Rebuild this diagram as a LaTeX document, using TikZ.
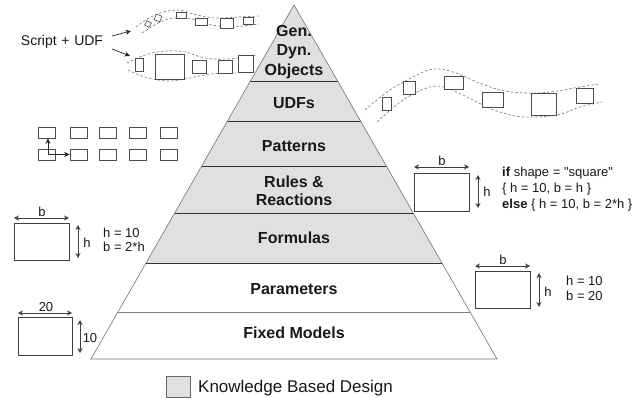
\documentclass[tikz,border=0pt]{standalone}
\usepackage{fontspec}
\setmainfont{Liberation Sans}
\newfontfamily\rawfont{Liberation Sans}
\usetikzlibrary{arrows.meta}
\begin{document}
\begin{tikzpicture}[x=1pt,y=-1pt,
  lvl/.style={font=\fontsize{16}{19.5}\selectfont\bfseries, align=center, text=black!90, inner sep=0pt},
  txt/.style={font=\fontsize{13}{14.5}\selectfont, inner sep=0pt, text=black!90},
  obox/.style={draw=black!75, line width=0.6pt},
  dimarr/.style={{Stealth[length=5pt,width=5pt]}-{Stealth[length=5pt,width=5pt]}, line width=0.7pt, black!75},
  wave/.style={dash pattern=on 2.5pt off 2pt, black!55, line width=0.6pt},
  sbox/.style={draw=black!70, line width=0.6pt, fill=white, inner sep=0pt},
  arr/.style={-{Stealth[length=5.5pt,width=5pt]}, line width=0.7pt, black!85},
  divline/.style={line width=1pt, black!80},
  edge/.style={line width=0.6pt, black!55}]
\useasboundingbox[fill=white] (0,0) rectangle (642,398);

% ---------- pyramid ----------
\coordinate (apex) at (294,5);
\coordinate (bl) at (91,359);
\coordinate (br) at (497,359);
\fill[black!12] (apex) -- (441.9,263) -- (146.1,263) -- cycle;
\draw[divline] (249.8,82) -- (338.2,82);
\draw[divline] (226.9,122) -- (361.1,122);
\draw[divline] (201.1,167) -- (386.9,167);
\draw[divline] (174.7,213) -- (413.3,213);
\draw[divline] (146.1,263) -- (441.9,263);
\draw[line width=1pt, black!50] (118,312) -- (470,312);
\draw[edge] (bl) -- (apex) -- (br) -- cycle;

\node[lvl] (gdo) at (294,52) {Gen.\\Dyn.\\Objects};
\node[lvl] (udfs) at (294,103) {UDFs};
\node[lvl] (pat) at (294,146) {Patterns};
\node[lvl, font=\fontsize{16}{18.5}\selectfont\bfseries] (rules) at (294,191) {Rules \&\\Reactions};
\node[lvl] (form) at (294,238) {Formulas};
\node[lvl] (param) at (294,289) {Parameters};
\node[lvl] (fixed) at (294,333) {Fixed Models};

% ---------- legend ----------
\node[draw=black!60, fill=black!12, line width=0.6pt, minimum width=24pt, minimum height=21pt, inner sep=0pt] (leg) at (178,386.5) {};
\node[font=\fontsize{17}{19}\selectfont, anchor=west, inner sep=0pt, text=black!90] (legt) at (198,388) {Knowledge Based Design};

% ---------- Script + UDF ----------
\node[font=\fontsize{14}{16}\selectfont, inner sep=0pt, text=black!90] (script) at (62,42) {Script\,\,+\,\,UDF};
\coordinate (s1a) at (112,36); \coordinate (s1b) at (131,31);
\coordinate (s2a) at (112,49); \coordinate (s2b) at (130,56);
\draw[arr] (s1a) -- (s1b);
\draw[arr] (s2a) -- (s2b);

% upper band
\draw[wave] plot[smooth, tension=0.6] coordinates {(136,27) (155,15) (177,10) (197,15) (215,18) (240,17) (259,16)};
\draw[wave] plot[smooth, tension=0.6] coordinates {(142,33) (165,20) (187,18) (207,24) (230,27) (259,24)};
\node[sbox, minimum width=5pt, minimum height=5pt, rotate=-30] (ua) at (148,24) {};
\node[sbox, minimum width=6pt, minimum height=6pt, rotate=-20] (ub) at (158,18) {};
\node[sbox, minimum width=10pt, minimum height=6pt] (uc) at (181,15) {};
\node[sbox, minimum width=12pt, minimum height=7pt] (ud) at (201,21.5) {};
\node[sbox, minimum width=13pt, minimum height=10pt] (ue) at (226.5,23) {};
\node[sbox, minimum width=10pt, minimum height=7pt] (uf) at (248,20.5) {};

% lower band
\draw[wave] plot[smooth, tension=0.6] coordinates {(127,63) (145,55) (165,51) (185,52) (205,58) (228,59) (256,55)};
\draw[wave] plot[smooth, tension=0.6] coordinates {(128,70) (145,77) (168,81) (190,78) (210,74) (232,73) (256,72)};
\node[sbox, minimum width=8pt, minimum height=13pt] (la) at (139,65) {};
\node[sbox, minimum width=29pt, minimum height=25pt] (lb) at (170,66.5) {};
\node[sbox, minimum width=14pt, minimum height=13pt] (lc) at (199,67) {};
\node[sbox, minimum width=14pt, minimum height=13pt] (ld) at (225,66.5) {};
\node[sbox, minimum width=15pt, minimum height=17pt] (le) at (245.5,63.5) {};

% right band
\draw[wave] plot[smooth, tension=0.6] coordinates {(365,110) (387,92) (413,77) (433,69) (453,72) (477,82) (500,90) (525,93) (550,92) (580,87) (599,84)};
\draw[wave] plot[smooth, tension=0.6] coordinates {(377,122) (403,100) (430,87) (447,88) (467,97) (487,107) (500,112) (523,117) (557,115) (580,107) (602,102)};
\node[sbox, minimum width=9pt, minimum height=13pt] (ra) at (386.5,103.5) {};
\node[sbox, minimum width=12pt, minimum height=13pt] (rb) at (409,87.5) {};
\node[sbox, minimum width=19pt, minimum height=13pt] (rc) at (453.5,82.5) {};
\node[sbox, minimum width=21pt, minimum height=15pt] (rd) at (492.5,99.5) {};
\node[sbox, minimum width=25pt, minimum height=22pt] (re) at (543.5,104) {};
\node[sbox, minimum width=17pt, minimum height=15pt] (rf) at (584.5,95.5) {};

% ---------- pattern grid ----------
\foreach \c/\x in {1/46.5,2/78.5,3/107.5,4/138,5/168.5}{
  \node[sbox, minimum width=17pt, minimum height=11pt] (g1\c) at (\x,132.5) {};
  \node[sbox, minimum width=17pt, minimum height=11pt] (g2\c) at (\x,155) {};
}
\coordinate (gs) at (48,154.5);
\draw[arr] (gs) -- (gs |- g11.south);
\draw[arr] (gs) -- (gs -| g22.west);

% ---------- left: b = 2*h ----------
\draw[obox] (14,223) rectangle (69,260);
\draw[dimarr] (14,218) -- (69,218);
\node[txt] (lbb) at (42,212) {b};
\draw[dimarr] (78,225) -- (78,258);
\node[txt] (lbh) at (87,243) {h};
\node[txt, anchor=west, align=left] (lbt) at (103,240) {h = 10\\b = 2*h};

% ---------- left bottom: 20 x 10 ----------
\draw[obox] (18,317) rectangle (72,355);
\draw[dimarr] (18,313) -- (72,313);
\node[txt] (l20) at (46,307) {20};
\draw[dimarr] (80,320) -- (80,353);
\node[txt] (l10) at (90,338) {10};

% ---------- right top: if ----------
\draw[obox] (414,173) rectangle (469,211);
\draw[dimarr] (414,167) -- (469,167);
\node[txt] (rtb) at (442,161) {b};
\draw[dimarr] (478,175) -- (478,208);
\node[txt] (rth) at (487,192) {h};
\node[txt, anchor=west, align=left, font=\fontsize{13}{16}\selectfont] (rtt) at (502,189) {\textbf{if} shape = {\rawfont "square"}\\\{ h = 10, b = h \}\\\textbf{else} \{ h = 10, b = 2*h \}};

% ---------- right bottom: b = 20 ----------
\draw[obox] (475,271) rectangle (530,308);
\draw[dimarr] (475,266) -- (530,266);
\node[txt] (rbb) at (503,260) {b};
\draw[dimarr] (539,273) -- (539,307);
\node[txt] (rbh) at (548,292) {h};
\node[txt, anchor=west, align=left] (rbt) at (566,288.5) {h = 10\\b = 20};
\end{tikzpicture}
\end{document}
